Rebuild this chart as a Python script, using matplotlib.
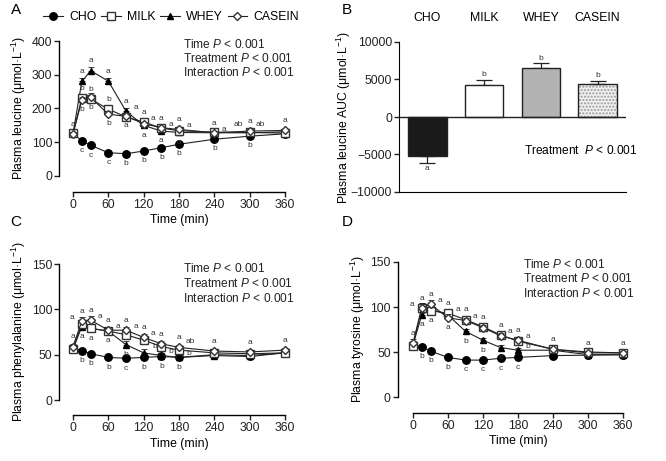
import matplotlib
matplotlib.use('Agg')
import matplotlib.pyplot as plt
from matplotlib.lines import Line2D
import numpy as np

plt.rcParams['font.family'] = ['Liberation Sans', 'DejaVu Sans']
plt.rcParams['mathtext.fontset'] = 'custom'
plt.rcParams['mathtext.rm'] = 'Liberation Sans'
plt.rcParams['mathtext.it'] = 'Liberation Sans:italic'
plt.rcParams['mathtext.bf'] = 'Liberation Sans:bold'

# ---------------- data ----------------
time = [0, 15, 30, 60, 90, 120, 150, 180, 240, 300, 360]
groups = ['CHO', 'MILK', 'WHEY', 'CASEIN']
xticks = [0, 60, 120, 180, 240, 300, 360]

# Panel A: plasma leucine (umol/L)
leu_cho = [126, 104, 91, 69, 66, 74, 84, 94, 109, 118, 125]
leu_milk = [126, 231, 228, 198, 175, 160, 142, 134, 130, 129, 127]
leu_whey = [126, 280, 312, 281, 192, 150, 133, 129, 128, 128, 131]
leu_casein = [124, 225, 233, 183, 177, 155, 143, 138, 128, 133, 135]
leu_se_cho = [5, 4, 4, 4, 4, 4, 4, 4, 5, 5, 5]
leu_se_prot = [6, 10, 12, 10, 8, 6, 5, 5, 5, 5, 5]

# Panel B: leucine AUC
auc_vals = [-5200, 4300, 6500, 4400]
auc_se = [900, 650, 650, 400]
auc_letters = ['a', 'b', 'b', 'b']

# Panel C: plasma phenylalanine
phe_cho = [57, 54.5, 51, 47, 46, 47, 48, 47, 50, 49, 52]
phe_milk = [56, 84, 79, 76, 72, 66, 59, 55, 52, 51, 52]
phe_whey = [56, 81, 79, 76, 61, 52, 49, 47, 49, 48, 52]
phe_casein = [59, 87, 88, 77, 77, 69, 62, 58, 54, 53, 55]
phe_se_cho = [2, 2, 2, 2, 2, 2, 2, 2, 2, 2, 2]
phe_se_prot = [3, 4, 5, 4, 4, 4, 3, 3, 2, 2, 2]

# Panel D: plasma tyrosine
tyr_cho = [58, 56, 51, 44, 41, 41, 43, 44, 46, 46.5, 47]
tyr_milk = [57, 99, 96, 93, 86, 78, 69, 62, 53, 50, 49]
tyr_whey = [58, 91, 98, 91, 73, 63, 55, 52, 52, 47, 47]
tyr_casein = [60, 99, 103, 88, 85, 77, 68, 63, 53, 49, 49]
tyr_se_cho = [2, 2, 2, 2, 2, 2, 2, 2, 2, 2, 2]
tyr_se_prot = [4, 5, 5, 4, 3, 3, 3, 3, 2, 2, 2]

# significance letters: (series, time, text, placement)
leu_letters = [
    ('CASEIN', 0, 'a', 'above'),
    ('WHEY', 15, 'a', 'above'), ('MILK', 15, 'b', 'above'), ('CASEIN', 15, 'b', 'below'), ('CHO', 15, 'c', 'below'),
    ('WHEY', 30, 'a', 'above'), ('MILK', 30, 'b', 'above'), ('CASEIN', 30, 'b', 'below'), ('CHO', 30, 'c', 'below'),
    ('WHEY', 60, 'a', 'above'), ('MILK', 60, 'b', 'above'), ('CASEIN', 60, 'b', 'below'), ('CHO', 60, 'c', 'below'),
    ('WHEY', 90, 'a', 'above'), ('WHEY', 90, 'a', 'right'), ('CASEIN', 90, 'a', 'below'), ('CHO', 90, 'b', 'below'),
    ('MILK', 120, 'a', 'above'), ('MILK', 120, 'a', 'right'), ('WHEY', 120, 'a', 'below'), ('CHO', 120, 'b', 'below'),
    ('CASEIN', 150, 'a', 'above'), ('CASEIN', 150, 'a', 'right'), ('WHEY', 150, 'a', 'below'), ('CHO', 150, 'b', 'below'),
    ('CASEIN', 180, 'a', 'above'), ('CASEIN', 180, 'a', 'right'), ('WHEY', 180, 'a', 'below'), ('CHO', 180, 'b', 'below'),
    ('CASEIN', 240, 'a', 'above'), ('CASEIN', 240, 'a', 'right'), ('CHO', 240, 'b', 'below'),
    ('CASEIN', 300, 'ab', 'upleft'), ('CASEIN', 300, 'a', 'above'), ('CASEIN', 300, 'ab', 'upright'), ('CHO', 300, 'b', 'below'),
    ('CASEIN', 360, 'a', 'above'),
]
phe_letters = [
    ('CASEIN', 0, 'a', 'above'),
    ('CASEIN', 15, 'a', 'left'), ('CASEIN', 15, 'a', 'above'), ('WHEY', 15, 'a', 'below'), ('CHO', 15, 'b', 'below'),
    ('CASEIN', 30, 'a', 'above'), ('CASEIN', 30, 'a', 'right'), ('MILK', 30, 'a', 'below'), ('CHO', 30, 'b', 'below'),
    ('CASEIN', 60, 'a', 'above'), ('CASEIN', 60, 'a', 'right'), ('WHEY', 60, 'a', 'below'), ('CHO', 60, 'b', 'below'),
    ('CASEIN', 90, 'a', 'above'), ('CASEIN', 90, 'a', 'right'), ('WHEY', 90, 'b', 'below'), ('CHO', 90, 'c', 'below'),
    ('CASEIN', 120, 'a', 'above'), ('CASEIN', 120, 'a', 'right'), ('WHEY', 120, 'b', 'upright'), ('CHO', 120, 'b', 'below'),
    ('CASEIN', 150, 'a', 'above'), ('MILK', 150, 'b', 'downright'), ('CHO', 150, 'b', 'below'),
    ('CASEIN', 180, 'a', 'above'), ('CASEIN', 180, 'ab', 'upright'), ('WHEY', 180, 'b', 'right'), ('CHO', 180, 'b', 'below'),
    ('CASEIN', 240, 'a', 'above'), ('CASEIN', 300, 'a', 'above'), ('CASEIN', 360, 'a', 'above'),
]
tyr_letters = [
    ('CASEIN', 0, 'a', 'above'),
    ('MILK', 15, 'a', 'left'), ('MILK', 15, 'a', 'above'), ('WHEY', 15, 'a', 'below'), ('CHO', 15, 'b', 'below'),
    ('CASEIN', 30, 'a', 'above'), ('CASEIN', 30, 'a', 'right'), ('MILK', 30, 'a', 'below'), ('CHO', 30, 'b', 'below'),
    ('MILK', 60, 'a', 'above'), ('MILK', 60, 'a', 'right'), ('CASEIN', 60, 'a', 'below'), ('CHO', 60, 'b', 'below'),
    ('MILK', 90, 'a', 'above'), ('MILK', 90, 'a', 'right'), ('WHEY', 90, 'b', 'below'), ('CHO', 90, 'c', 'below'),
    ('MILK', 120, 'a', 'above'), ('WHEY', 120, 'b', 'below'), ('CHO', 120, 'c', 'below'),
    ('MILK', 150, 'a', 'above'), ('MILK', 150, 'a', 'right'), ('WHEY', 150, 'b', 'below'), ('CHO', 150, 'c', 'below'),
    ('CASEIN', 180, 'a', 'above'), ('CASEIN', 180, 'a', 'right'), ('WHEY', 180, 'b', 'right'), ('CHO', 180, 'c', 'below'),
    ('CASEIN', 240, 'a', 'above'), ('CASEIN', 300, 'a', 'above'), ('CASEIN', 360, 'a', 'above'),
]

# ---------------- styles ----------------
W, H = 666, 461
fig = plt.figure(figsize=(W / 100, H / 100), dpi=100)

def px_axes(left, top, right, bottom):
    return fig.add_axes([left / W, 1 - bottom / H, (right - left) / W, (bottom - top) / H])

styles = {
    'CHO': dict(marker='o', mfc='black', mec='black', ms=5.4),
    'MILK': dict(marker='s', mfc='white', mec='#333333', ms=5.4),
    'WHEY': dict(marker='^', mfc='black', mec='black', ms=4.8),
    'CASEIN': dict(marker='D', mfc='white', mec='#333333', ms=4.3),
}
offsets = {'above': (0, 7), 'below': (0, -7), 'right': (7, 2.5), 'left': (-7, 2.5),
           'upright': (8, 4.5), 'upleft': (-8, 4.5), 'downright': (7, -3.5)}
LW = 0.8
FS = 8.8
FS_STAT = 8.6
FS_LET = 6.0

def time_panel(ax, series, se_cho, se_prot, letters, ylim, yticks, ylabel, off_left, off_bottom):
    order = ['CHO', 'WHEY', 'MILK', 'CASEIN']
    zo = {'CHO': 3, 'WHEY': 4, 'MILK': 5, 'CASEIN': 6}
    for g in order:
        vals = np.array(series[g], dtype=float)
        if g == 'CHO':
            yerr = [np.array(se_cho), np.zeros(len(vals))]
        else:
            yerr = [np.zeros(len(vals)), np.array(se_prot)]
        ax.errorbar(time, vals, yerr=yerr, color='#222222', lw=LW, elinewidth=0.6,
                    capsize=2.2, capthick=0.6, zorder=zo[g], clip_on=False, **styles[g])
    for g, t, txt, pos in letters:
        i = time.index(t)
        ax.annotate(txt, (t, series[g][i]), xytext=offsets[pos], textcoords='offset points',
                    ha='center', va='center', fontsize=FS_LET, color='#333333', zorder=10)
    ax.set_xlim(0, 360)
    ax.set_ylim(*ylim)
    ax.set_xticks(xticks)
    ax.set_yticks(yticks)
    ax.spines['top'].set_visible(False)
    ax.spines['right'].set_visible(False)
    ax.spines['left'].set_position(('outward', off_left))
    ax.spines['bottom'].set_position(('outward', off_bottom))
    ax.spines['left'].set_linewidth(1.0)
    ax.spines['bottom'].set_linewidth(1.0)
    ax.tick_params(labelsize=FS, length=3.5, width=1.0, pad=1.5, colors='#222222')
    ax.set_xlabel('Time (min)', fontsize=FS, labelpad=2.5)
    ax.set_ylabel(ylabel, fontsize=FS, labelpad=2.5)

def stats_text(xpx, ypx):
    lines = ['Time $P$ < 0.001', 'Treatment $P$ < 0.001', 'Interaction $P$ < 0.001']
    for k, s in enumerate(lines):
        fig.text(xpx / W, 1 - (ypx + 14.5 * k) / H, s, fontsize=FS_STAT, va='center', ha='left', color='#222222')

# Panel A
axA = px_axes(73, 41, 285, 176)
time_panel(axA, {'CHO': leu_cho, 'MILK': leu_milk, 'WHEY': leu_whey, 'CASEIN': leu_casein},
           leu_se_cho, leu_se_prot, leu_letters, (0, 400), [0, 100, 200, 300, 400],
           'Plasma leucine (μmol·L$^{-1}$)', 10, 11.5)
stats_text(183, 44)

# Panel C
axC = px_axes(73, 264, 285, 400)
time_panel(axC, {'CHO': phe_cho, 'MILK': phe_milk, 'WHEY': phe_whey, 'CASEIN': phe_casein},
           phe_se_cho, phe_se_prot, phe_letters, (0, 150), [0, 50, 100, 150],
           'Plasma phenylalanine (μmol·L$^{-1}$)', 10, 11)
stats_text(183, 269)

# Panel D
axD = px_axes(413, 262, 623, 397)
time_panel(axD, {'CHO': tyr_cho, 'MILK': tyr_milk, 'WHEY': tyr_whey, 'CASEIN': tyr_casein},
           tyr_se_cho, tyr_se_prot, tyr_letters, (0, 150), [0, 50, 100, 150],
           'Plasma tyrosine (μmol·L$^{-1}$)', 11, 11.5)
stats_text(523, 264)

# Panel B
axB = px_axes(399, 42, 626, 192)
xb = np.arange(len(groups))
bar_fc = ['#1a1a1a', 'white', '#b3b3b3', '#f0f0f0']
for i, g in enumerate(groups):
    if g == 'CASEIN':
        axB.bar(xb[i], auc_vals[i], width=0.68, color=bar_fc[i], edgecolor='#9a9a9a',
                hatch='.....', linewidth=0, zorder=2)
        axB.bar(xb[i], auc_vals[i], width=0.68, color='none', edgecolor='#222222', linewidth=1.0, zorder=3)
    else:
        axB.bar(xb[i], auc_vals[i], width=0.68, color=bar_fc[i], edgecolor='#222222', linewidth=1.0, zorder=3)
    sgn = np.sign(auc_vals[i])
    axB.errorbar(xb[i], auc_vals[i], yerr=[[auc_se[i]] if sgn < 0 else [0], [auc_se[i]] if sgn > 0 else [0]],
                 fmt='none', ecolor='#222222', elinewidth=0.9, capsize=6, capthick=0.9, zorder=2)
    yl = auc_vals[i] + sgn * (auc_se[i] + 700)
    axB.text(xb[i], yl, auc_letters[i], ha='center', va='center', fontsize=FS_LET, color='#333333')
    axB.text(xb[i], 1.16, g, transform=axB.get_xaxis_transform(), ha='center', va='center', fontsize=FS)
axB.axhline(0, color='#222222', lw=1.0, zorder=4)
axB.set_xlim(-0.5, 3.5)
axB.set_ylim(-10000, 10000)
axB.set_yticks([-10000, -5000, 0, 5000, 10000])
axB.set_xticks([])
axB.spines['top'].set_visible(False)
axB.spines['right'].set_visible(False)
axB.tick_params(labelsize=FS, length=3.5, width=1.0, pad=1.5, colors='#222222')
axB.set_ylabel('Plasma leucine AUC (μmol·L$^{-1}$)', fontsize=FS, labelpad=-2)
axB.text(0.551, 0.28, 'Treatment  $P$ < 0.001', transform=axB.transAxes, fontsize=FS_STAT, va='center', ha='left')

# Panel letters
for lbl, (xp, yp) in zip('ABCD', [(16, 10), (347, 10), (16, 222), (347, 222)]):
    fig.text(xp / W, 1 - yp / H, lbl, fontsize=11, ha='center', va='center')

# Legend
handles = [Line2D([], [], color='#222222', lw=LW, **styles[g]) for g in groups]
fig.legend(handles, groups, loc='center', bbox_to_anchor=(171 / W, 1 - 17 / H), ncol=4, frameon=False,
           fontsize=FS, handlelength=1.6, handletextpad=0.5, columnspacing=0.4, borderpad=0)

fig.savefig('out.png', dpi=100)
